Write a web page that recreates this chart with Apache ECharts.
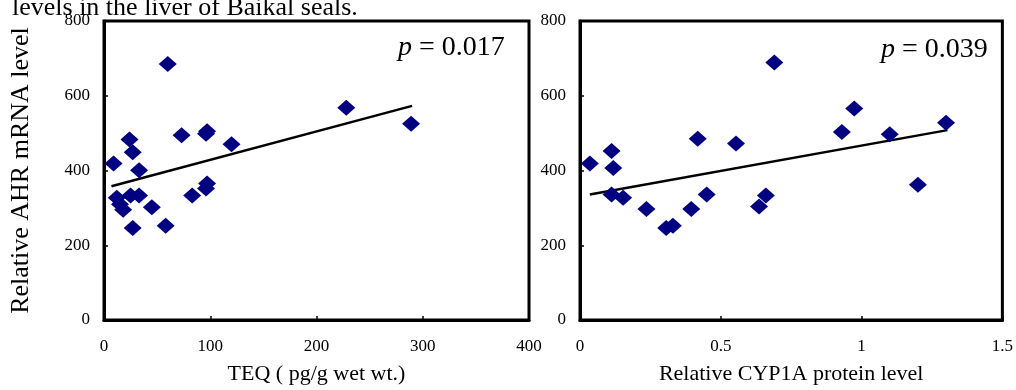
<!DOCTYPE html>
<html>
<head>
<meta charset="utf-8">
<script src="https://cdn.jsdelivr.net/npm/echarts@6/dist/echarts.min.js"></script>
<style>
  html, body { margin: 0; padding: 0; background: #fff; }
  #chart { width: 1016px; height: 390px; }
</style>
</head>
<body>
<div id="chart"></div>
<script>
// left panel: TEQ vs AHR mRNA
const teqPoints = [
  [60, 685], [228, 568], [289, 525], [24, 483], [73, 494], [96, 498], [97, 505],
  [120, 470], [27, 449], [9, 419], [33, 401], [96, 352], [97, 365], [83, 333],
  [12, 327], [25, 333], [33, 333], [18, 295], [45, 302], [27, 246], [58, 252], [15, 310]
];
const teqFit = [[7, 358], [290, 573]];

// right panel: CYP1A protein vs AHR mRNA
const cypPoints = [
  [0.035, 419], [0.112, 452], [0.118, 407], [0.112, 336], [0.153, 327], [0.236, 297],
  [0.306, 246], [0.33, 252], [0.395, 297], [0.418, 485], [0.45, 336], [0.554, 472],
  [0.636, 304], [0.66, 333], [0.69, 689], [0.93, 503], [0.974, 566], [1.10, 497],
  [1.20, 362], [1.30, 528]
];
const cypFit = [[0.035, 336], [1.305, 508]];

const serif = 'Liberation Serif';
const navy = '#000080';

const chart = echarts.init(document.getElementById('chart'));

const xBase = {
  type: 'value',
  nameLocation: 'middle',
  nameGap: 43,
  nameTextStyle: { fontFamily: serif, fontSize: 22, color: '#000' },
  axisLine: { onZero: false, lineStyle: { color: '#000', width: 3 } },
  axisTick: { inside: true, length: 4, lineStyle: { color: '#000', width: 1.5 } },
  axisLabel: { margin: 18, fontFamily: serif, fontSize: 17, color: '#000' },
  splitLine: { show: false }
};
const yBase = {
  type: 'value',
  min: 0, max: 800, interval: 200,
  axisLine: { show: true, lineStyle: { color: '#000', width: 3 } },
  axisTick: { show: true, inside: true, length: 4, lineStyle: { color: '#000', width: 1.5 } },
  axisLabel: { margin: 14, fontFamily: serif, fontSize: 17, color: '#000' },
  splitLine: { show: false }
};

const pStyle = (txt) => ({
  text: '{i|p} = ' + txt,
  rich: { i: { fontStyle: 'italic', fontFamily: serif, fontSize: 28 } },
  font: '28px "Liberation Serif"',
  fill: '#000'
});

const option = {
  animation: false,
  backgroundColor: '#fff',
  grid: [
    { left: 104, top: 21, width: 425, height: 299, show: true, borderColor: '#000', borderWidth: 3, backgroundColor: 'transparent' },
    { left: 580, top: 21, width: 425, height: 299, show: true, borderColor: '#000', borderWidth: 3, backgroundColor: 'transparent' }
  ],
  xAxis: [
    Object.assign({}, xBase, { gridIndex: 0, min: 0, max: 400, interval: 100, name: 'TEQ ( pg/g wet wt.)' }),
    Object.assign({}, xBase, { gridIndex: 1, min: 0, max: 1.5, interval: 0.5, name: 'Relative CYP1A protein level' })
  ],
  yAxis: [
    Object.assign({}, yBase, {
      gridIndex: 0, name: 'Relative AHR mRNA level', nameLocation: 'middle', nameGap: 70,
      nameTextStyle: { fontFamily: serif, fontSize: 26, color: '#000' }
    }),
    Object.assign({}, yBase, { gridIndex: 1 })
  ],
  graphic: [
    { type: 'text', left: 12, top: -5, style: { text: 'levels in the liver of Baikal seals.', font: '26px "Liberation Serif"', fill: '#000' } },
    { type: 'text', left: 398, top: 34, style: pStyle('0.017') },
    { type: 'text', left: 881, top: 36, style: pStyle('0.039') }
  ],
  series: [
    { type: 'line', xAxisIndex: 0, yAxisIndex: 0, data: teqFit, showSymbol: false, lineStyle: { color: '#000', width: 2.5 }, z: 1 },
    { type: 'scatter', xAxisIndex: 0, yAxisIndex: 0, data: teqPoints, symbol: 'diamond', symbolSize: [18, 16], itemStyle: { color: navy, opacity: 1 }, z: 2 },
    { type: 'line', xAxisIndex: 1, yAxisIndex: 1, data: cypFit, showSymbol: false, lineStyle: { color: '#000', width: 2.5 }, z: 1 },
    { type: 'scatter', xAxisIndex: 1, yAxisIndex: 1, data: cypPoints, symbol: 'diamond', symbolSize: [18, 16], itemStyle: { color: navy, opacity: 1 }, z: 2 }
  ]
};

chart.setOption(option);
</script>
</body>
</html>
